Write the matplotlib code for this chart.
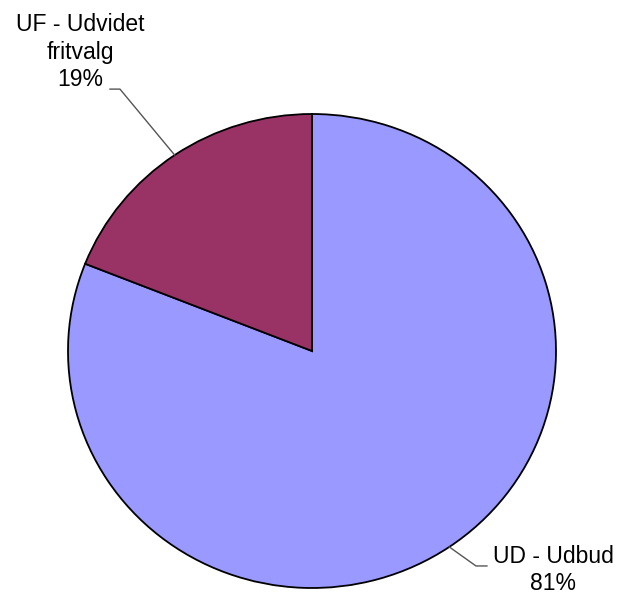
import matplotlib
matplotlib.use("Agg")
import matplotlib.pyplot as plt

labels = ["UD - Udbud", "UF - Udvidet\nfritvalg"]
values = [81, 19]
colors = ["#9999FF", "#993366"]

plt.rcParams['font.family'] = ['Liberation Sans', 'DejaVu Sans']

W, H = 622, 596
fig = plt.figure(figsize=(W / 100, H / 100), dpi=100)

# pie bounding box in pixels (slightly wider than tall, like the original)
left, top, right, bottom = 68, 114, 556, 588
ax = fig.add_axes([left / W, 1 - bottom / H, (right - left) / W, (bottom - top) / H])

wedges, _ = ax.pie(values, colors=colors, startangle=90, counterclock=False,
                   radius=1, wedgeprops=dict(edgecolor='black', linewidth=1.3))
ax.set_xlim(-1, 1)
ax.set_ylim(-1, 1)
ax.set_aspect('auto')
ax.axis('off')

# leader lines (axes data units)
ax.plot([-0.563, -0.787, -0.828], [0.827, 1.105, 1.105], color='#555555',
        lw=1, clip_on=False)
ax.plot([0.563, 0.672, 0.717], [-0.827, -0.907, -0.907], color='#555555',
        lw=1, clip_on=False)

total = sum(values)
pct = [f"{round(v / total * 100)}%" for v in values]

fig.text(80 / W, 1 - 52 / H, labels[1] + "\n" + pct[1], ha='center', va='center',
         fontsize=16.5, linespacing=1.25)
fig.text(553 / W, 1 - 570 / H, labels[0] + "\n" + pct[0], ha='center', va='center',
         fontsize=16.5, linespacing=1.25)

fig.savefig("out.png", dpi=100, facecolor='white')
